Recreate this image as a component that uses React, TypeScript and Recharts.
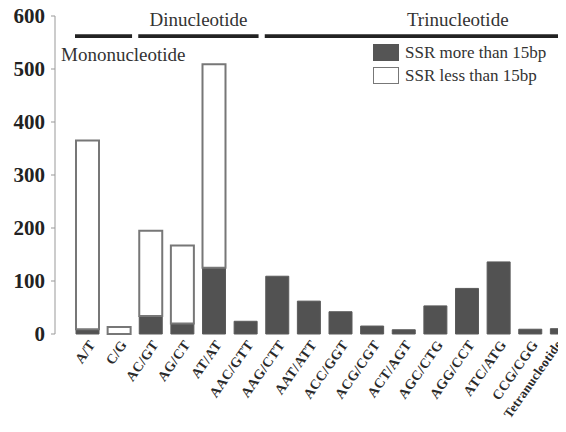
import { BarChart, Bar, XAxis, YAxis, Legend, ReferenceArea } from 'recharts';

const motifs = ['A/T', 'C/G', 'AC/GT', 'AG/CT', 'AT/AT', 'AAC/GTT', 'AAG/CTT', 'AAT/ATT', 'ACC/GGT', 'ACG/CGT', 'ACT/AGT', 'AGC/CTG', 'AGG/CCT', 'ATC/ATG', 'CCG/CGG', 'Tetranucleotide'];
const moreThan15 = [9, 0, 34, 20, 125, 24, 109, 62, 42, 15, 8, 53, 86, 136, 9, 10];
const lessThan15 = [356, 13, 161, 147, 384, 0, 0, 0, 0, 0, 0, 0, 0, 0, 0, 0];
const yTicks = [0, 100, 200, 300, 400, 500, 600];

// groups drawn as bars over the top of the plot
const groups = [
  { name: 'Mononucleotide', from: 'A/T', to: 'C/G' },
  { name: 'Dinucleotide', from: 'AC/GT', to: 'AAC/GTT' },
  { name: 'Trinucleotide', from: 'AAG/CTT', to: 'Tetranucleotide' },
];

const data = motifs.map((m, i) => ({ motif: m, more: moreThan15[i], less: lessThan15[i] }));

const serif = '"Liberation Serif", "Times New Roman", serif';

const XTick = (props: any) => {
  const { x, y, payload } = props;
  // last label sits at the right edge, pull it in so it stays readable
  const last = payload.value === 'Tetranucleotide';
  const ax = last ? x - 7 : x;
  const ay = y + 1;
  return (
    <text
      x={ax}
      y={ay}
      dy="0.7em"
      textAnchor="end"
      transform={`rotate(-55, ${ax}, ${ay})`}
      fontFamily={serif}
      fontWeight="bold"
      fontSize={last ? 13 : 14}
      letterSpacing={0.3}
      fill="#2a2a2a"
    >
      {payload.value}
    </text>
  );
};

const groupLabel = (name: string) => (props: any) => {
  const vb = props.viewBox;
  let x = vb.x + vb.width / 2;
  let y = vb.y - 5;
  let anchor: 'middle' | 'start' = 'middle';
  if (name === 'Mononucleotide') {
    x = vb.x - 11;
    y = vb.y + 30;
    anchor = 'start';
  }
  if (name === 'Trinucleotide') {
    x = vb.x + 196;
  }
  return (
    <text x={x} y={y} textAnchor={anchor} fontFamily={serif} fontSize={19} fill="#333">
      {name}
    </text>
  );
};

const LegendBox = () => (
  <div style={{ fontFamily: serif, fontSize: 17, color: '#333', lineHeight: '23px' }}>
    <div style={{ display: 'flex', alignItems: 'center' }}>
      <span style={{ width: 26, height: 17, background: '#555', marginRight: 6, display: 'inline-block' }} />
      SSR more than 15bp
    </div>
    <div style={{ display: 'flex', alignItems: 'center' }}>
      <span style={{ width: 24, height: 15, background: '#fff', border: '1px solid #777', marginRight: 6, display: 'inline-block' }} />
      SSR less than 15bp
    </div>
  </div>
);

export default function App() {
  return (
    <div style={{ marginLeft: -8, marginTop: -8, width: 566, height: 432, overflow: 'hidden', background: '#fff' }}>
      <BarChart width={590} height={432} data={data} margin={{ top: 16, right: 12, left: 0, bottom: 0 }} barSize={23}>
        <XAxis
          dataKey="motif"
          height={98}
          axisLine={false}
          tickLine={false}
          tickSize={0}
          tickMargin={4}
          interval={0}
          padding={{ left: 17, right: 0 }}
          tick={<XTick />}
        />
        <YAxis
          width={55}
          domain={[0, 600]}
          ticks={yTicks}
          stroke="#999"
          tickSize={4}
          tickMargin={6}
          tick={{ fontFamily: serif, fontWeight: 'bold', fontSize: 21, fill: '#222' }}
        />
        <Legend
          layout="horizontal"
          verticalAlign="middle"
          align="center"
          content={<LegendBox />}
          wrapperStyle={{ position: 'absolute', top: 41, left: 373, width: 190 }}
        />
        {groups.map((g) => (
          <ReferenceArea
            key={g.name}
            x1={g.from}
            x2={g.to}
            y1={553}
            y2={571}
            fill="#222"
            fillOpacity={1}
            stroke="#fff"
            strokeWidth={6}
            ifOverflow="visible"
            label={groupLabel(g.name)}
          />
        ))}
        <Bar dataKey="more" stackId="ssr" fill="#525252" stroke="#5a5a5a" strokeWidth={1} isAnimationActive={false} legendType="none" />
        <Bar dataKey="less" stackId="ssr" fill="#fff" stroke="#777" strokeWidth={2} isAnimationActive={false} legendType="none" />
      </BarChart>
    </div>
  );
}
